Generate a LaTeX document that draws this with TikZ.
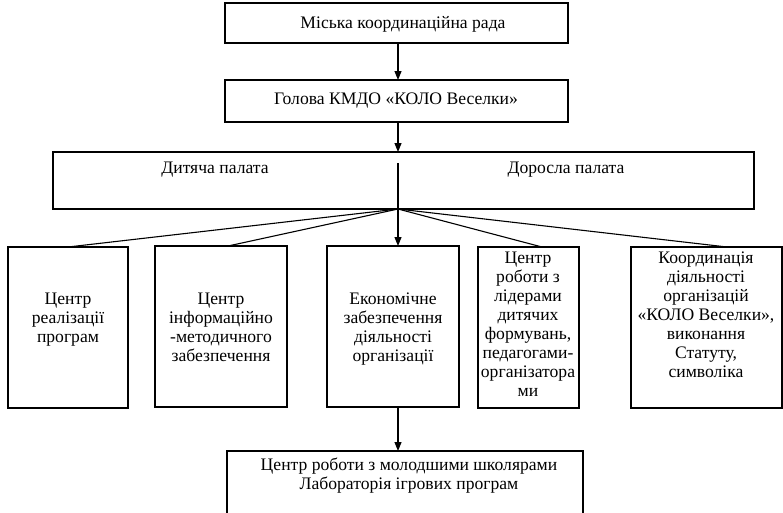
\documentclass[tikz,border=0pt]{standalone}
\usepackage{fontspec}
\setmainfont{Liberation Serif}
\usetikzlibrary{arrows.meta}
\begin{document}
\begin{tikzpicture}[x=1pt,y=-1pt,
  frame/.style={draw, line width=1.1pt},
  txt/.style={font=\fontsize{17.6}{19}\selectfont, inner sep=0pt, align=center},
  conn/.style={line width=1.1pt},
  arr/.style={line width=1.1pt, -{Triangle[length=9pt,width=7pt]}}]
\useasboundingbox (0,0) rectangle (783,512);
% boxes
\draw[frame] (225,3) rectangle (568,43);
\node[txt] (t1) at (403,24) {Міська координаційна рада};
\draw[frame] (225,80) rectangle (568,122);
\node[txt] (t2) at (396,101) {Голова КМДО «КОЛО Веселки»};
\draw[frame] (53,152) rectangle (754,209);
\node[txt] (dp) at (215,170) {Дитяча палата};
\node[txt] (vp) at (566,170) {Доросла палата};
\draw[frame] (8,247) rectangle (128,408);
\draw[frame] (155,246) rectangle (287,407);
\draw[frame] (327,246) rectangle (459,407);
\draw[frame] (478,247) rectangle (579,408);
\draw[frame] (631,247) rectangle (782,408);
\draw[frame] (227,451) rectangle (583,520);
% texts
\node[txt, anchor=north] (b1) at (68,293) {Центр\\реалізації\\програм};
\node[txt, anchor=north] (b2) at (221,293) {Центр\\інформаційно\\-методичного\\забезпечення};
\node[txt, anchor=north] (b3) at (393,293) {Економічне\\забезпечення\\діяльності\\організації};
\node[txt, anchor=north] (b4) at (528,252) {Центр\\роботи з\\лідерами\\дитячих\\формувань,\\педагогами-\\організатора\\ми};
\node[txt, anchor=north] (b5) at (706,252) {Координація\\діяльності\\організацій\\«КОЛО Веселки»,\\виконання\\Статуту,\\символіка};
\node[txt, anchor=north] (bt) at (409,458) {Центр роботи з молодшими школярами\\Лабораторія ігрових програм};
% connector coordinates
\coordinate (a1s) at (398,43);
\coordinate (a1e) at (398,80);
\coordinate (a2s) at (398,122);
\coordinate (a2e) at (398,152);
\coordinate (in) at (398,163);
\coordinate (hub) at (398,209);
\coordinate (e1) at (68,247);
\coordinate (e2) at (228,246);
\coordinate (e3) at (398,246);
\coordinate (e4) at (542,247);
\coordinate (e5) at (727,247);
\coordinate (a3s) at (398,407);
\coordinate (a3e) at (398,451);
\draw[arr] (a1s) -- (a1e);
\draw[arr] (a2s) -- (a2e);
\draw[conn] (in) -- (hub);
\draw[conn] (hub) -- (e1);
\draw[conn] (hub) -- (e2);
\draw[arr] (hub) -- (e3);
\draw[conn] (hub) -- (e4);
\draw[conn] (hub) -- (e5);
\draw[arr] (a3s) -- (a3e);
\end{tikzpicture}
\end{document}
